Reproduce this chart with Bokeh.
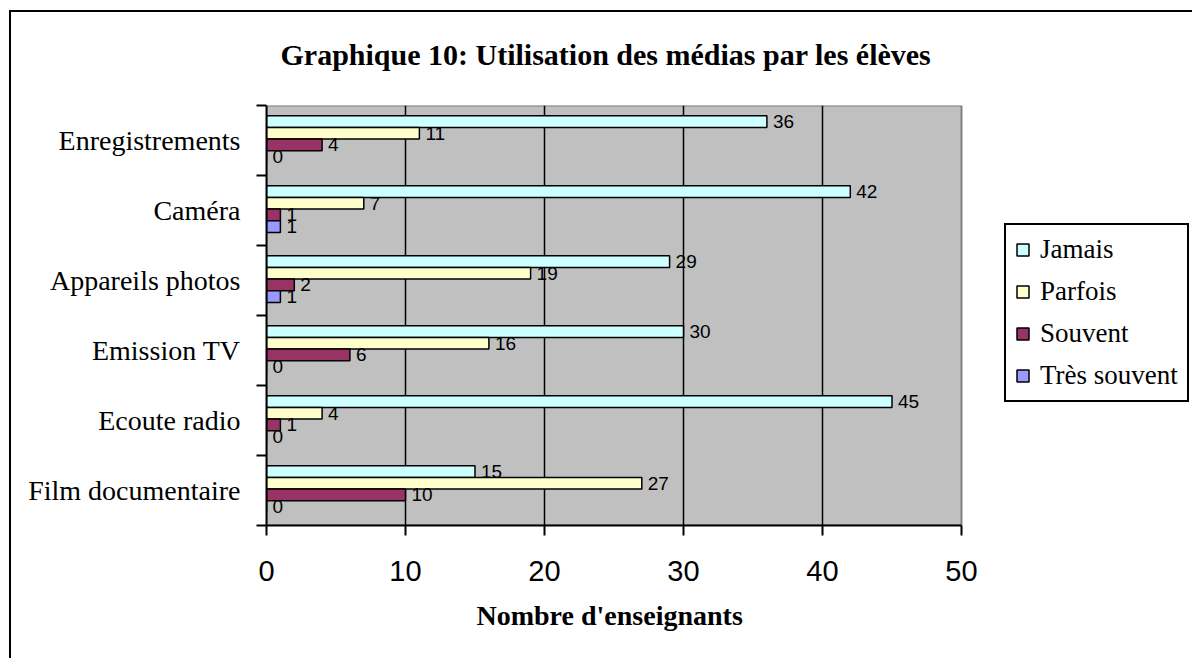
from bokeh.plotting import figure
from bokeh.models import ColumnDataSource, FixedTicker, Legend, LegendItem, Range1d, Title
from bokeh.core.properties import value
from bokeh.embed import file_html
from bokeh.resources import INLINE

# Data (bottom to top, as shown on the chart)
categories = ["Film documentaire", "Ecoute radio", "Emission TV",
              "Appareils photos", "Caméra", "Enregistrements"]
series_names = ["Jamais", "Parfois", "Souvent", "Très souvent"]
jamais = [15, 45, 30, 29, 42, 36]
parfois = [27, 4, 16, 19, 7, 11]
souvent = [10, 1, 6, 2, 1, 4]
tres_souvent = [0, 0, 0, 1, 1, 0]
x_ticks = [0, 10, 20, 30, 40, 50]
x_max = 50

series_values = [jamais, parfois, souvent, tres_souvent]
colors = ["#CCFFFF", "#FFFFCC", "#993366", "#9999FF"]
bar_h = 0.1667
offsets = [0.27, 0.103, -0.063, -0.23]

SERIF = "Liberation Serif"
SANS = "Liberation Sans"

W, H = 1192, 658
LEFT, TOP, BOTTOM = 266, 104, 133
PLOT_W = 695  # width of the grey plot area in pixels
# the frame spans to the right edge so the legend (drawn in the frame) is not clipped
x_end = x_max * (W - LEFT) / PLOT_W

p = figure(width=W, height=H,
           x_range=Range1d(0, x_end), y_range=Range1d(0, len(categories)),
           output_backend="svg", toolbar_location=None,
           min_border_left=LEFT, min_border_right=0,
           min_border_top=TOP, min_border_bottom=BOTTOM)

p.border_fill_color = None
p.background_fill_color = None
p.outline_line_color = None
# outer chart frame (only its left and top sides are inside the window)
p.styles = {
    "background-image": "linear-gradient(#000,#000), linear-gradient(#000,#000)",
    "background-size": "2px 100%, 100% 2px",
    "background-position": "9px 10px, 9px 10px",
    "background-repeat": "no-repeat",
}

# grey plot area: the value axis extent x 0..50, all categories
p.quad(left=0, right=x_max, bottom=0, top=len(categories),
       fill_color="#C0C0C0", line_color="#808080", line_width=2, level="image")

# Title
p.title.text = "Graphique 10: Utilisation des médias par les élèves"
p.title.text_font = SERIF
p.title.text_font_size = "30px"
p.title.text_font_style = "bold"
p.title.text_color = "black"
p.title.align = "left"
p.title.offset = 14
p.title.standoff = 70

# Bars and value labels
centers = [i + 0.5 for i in range(len(categories))]
legend_items = []
for name, vals, col, off in zip(series_names, series_values, colors, offsets):
    ys = [c + off for c in centers]
    src = ColumnDataSource(dict(y=ys, right=vals, label=[str(v) for v in vals]))
    r = p.hbar(y="y", left=0, right="right", height=bar_h, source=src,
               fill_color=col, line_color="black", line_width=1.5)
    p.text(x="right", y="y", text="label", source=src, x_offset=6,
           text_baseline="middle", text_align="left",
           text_font=value(SANS), text_font_size="19px", text_color="black")
    legend_items.append(LegendItem(label=name, renderers=[r]))

# X axis
p.xaxis.bounds = (0, x_max)
p.xaxis.ticker = FixedTicker(ticks=x_ticks, minor_ticks=[])
p.xaxis.axis_line_color = "black"
p.xaxis.axis_line_width = 2
p.xaxis.major_tick_out = 10
p.xaxis.major_tick_in = 0
p.xaxis.major_tick_line_width = 2
p.xaxis.major_label_text_font = SANS
p.xaxis.major_label_text_font_size = "29px"
p.xaxis.major_label_text_color = "black"
p.xaxis.major_label_standoff = 25

# x axis title, centred under the grey plot area
x_title = Title(text="Nombre d'enseignants", align="left", offset=210,
                text_font=SERIF, text_font_size="28px", text_font_style="bold",
                text_color="black", standoff=29)
p.add_layout(x_title, "below")

# Y axis: labels at category centres, ticks at category boundaries
p.yaxis.ticker = FixedTicker(ticks=centers, minor_ticks=list(range(len(categories) + 1)))
p.yaxis.major_label_overrides = {c: cat for c, cat in zip(centers, categories)}
p.yaxis.axis_line_color = "black"
p.yaxis.axis_line_width = 2
p.yaxis.major_tick_line_color = None
p.yaxis.major_tick_out = 10
p.yaxis.major_tick_in = 0
p.yaxis.minor_tick_out = 10
p.yaxis.minor_tick_in = 0
p.yaxis.minor_tick_line_color = "black"
p.yaxis.minor_tick_line_width = 2
p.yaxis.major_label_text_font = SERIF
p.yaxis.major_label_text_font_size = "28px"
p.yaxis.major_label_text_color = "black"
p.yaxis.major_label_standoff = 16

# Grid
p.xgrid.ticker = FixedTicker(ticks=[10, 20, 30, 40])
p.xgrid.grid_line_color = "black"
p.xgrid.grid_line_width = 1.5
p.ygrid.grid_line_color = None

# Legend
legend = Legend(items=legend_items, location=(1004 - LEFT, 123),
                border_line_color="black", border_line_width=2, border_line_alpha=1,
                background_fill_color="white", background_fill_alpha=1,
                label_text_font="Times New Roman",
                label_text_font_size="27px", label_text_font_style="normal",
                label_text_color="black",
                glyph_width=15, glyph_height=15, label_standoff=10,
                spacing=11, padding=9, margin=0, label_height=29)
p.add_layout(legend)

open("out.html", "w").write(file_html(p, INLINE))
